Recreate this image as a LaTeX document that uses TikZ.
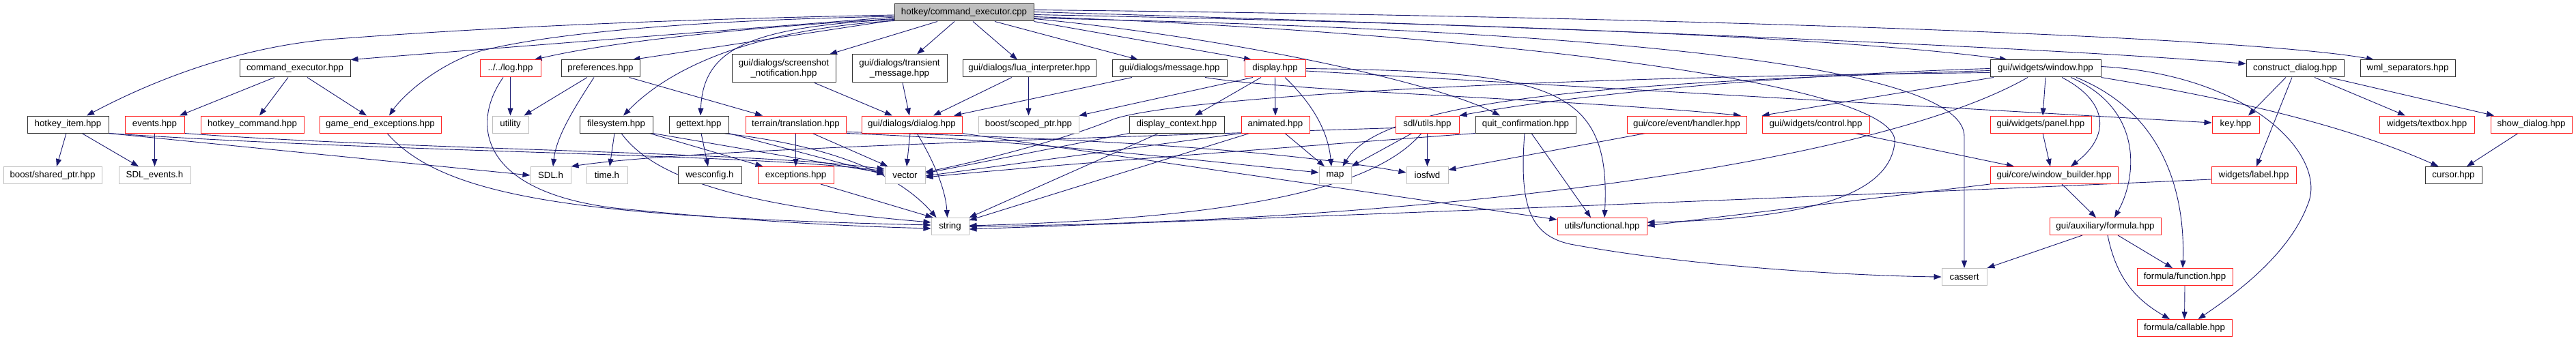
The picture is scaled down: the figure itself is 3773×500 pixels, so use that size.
\documentclass[tikz,border=0pt]{standalone}
\usepackage{fontspec}
\newfontfamily\dgfont{Liberation Sans}
\usetikzlibrary{arrows.meta}
\definecolor{edgec}{HTML}{191970}
\definecolor{boxgray}{HTML}{BFBFBF}
\definecolor{boxred}{HTML}{FF2020}
\pgfdeclarelayer{bg}
\pgfdeclarelayer{paper}
\pgfsetlayers{paper,bg,main}
\newcommand{\dgbox}[6]{\node[#1, minimum width=#5pt] (#2) at (#3,#4) {#6};}
\begin{document}
\begin{tikzpicture}[x=1pt,y=-1pt,
  nb/.style={draw=black!80, fill=white, line width=1.0pt, minimum height=25pt, inner sep=0pt, align=center, font={\dgfont\fontsize{13.3}{15.5}\selectfont}},
  nr/.style={nb, draw=boxred},
  ng/.style={nb, draw=boxgray},
  nroot/.style={nb, fill=boxgray},
  dep/.style={draw=edgec, line width=0.9pt, -{Triangle[length=11pt,width=8pt]}}
]
\begin{pgfonlayer}{paper}
\fill[white] (0,0) rectangle (3773,500);
\end{pgfonlayer}
\useasboundingbox (0,0) rectangle (3773,500);

% row 0
\dgbox{nroot}{root}{1412}{18.5}{204}{hotkey/command\_executor.cpp}
% row 1
\dgbox{nb}{cmdhpp}{432}{100.5}{162}{command\_executor.hpp}
\dgbox{nr}{log}{747.5}{100.5}{89}{../../log.hpp}
\dgbox{nb}{prefs}{879.5}{100.5}{115}{preferences.hpp}
\dgbox{nb, minimum height=41pt}{screenshot}{1148}{100.5}{152}{gui/dialogs/screenshot\\\_notification.hpp}
\dgbox{nb, minimum height=41pt}{transient}{1317.5}{100.5}{139}{gui/dialogs/transient\\\_message.hpp}
\dgbox{nb}{lua}{1507.5}{100.5}{195}{gui/dialogs/lua\_interpreter.hpp}
\dgbox{nb}{message}{1713}{100.5}{168}{gui/dialogs/message.hpp}
\dgbox{nr}{display}{1867.5}{100.5}{89}{display.hpp}
\dgbox{nb}{window}{2996}{100.5}{162}{gui/widgets/window.hpp}
\dgbox{nb}{construct}{3361.5}{100.5}{143}{construct\_dialog.hpp}
\dgbox{nb}{wml}{3526.5}{100.5}{139}{wml\_separators.hpp}
% row 2
\dgbox{nb}{hkitem}{99.5}{182.5}{119}{hotkey\_item.hpp}
\dgbox{nr}{events}{226.5}{182.5}{87}{events.hpp}
\dgbox{nr}{hkcmd}{369.5}{182.5}{151}{hotkey\_command.hpp}
\dgbox{nr}{gameend}{557}{182.5}{178}{game\_end\_exceptions.hpp}
\dgbox{ng}{utility}{747.5}{182.5}{53}{utility}
\dgbox{nb}{filesystem}{902.5}{182.5}{107}{filesystem.hpp}
\dgbox{nb}{gettext}{1023.5}{182.5}{87}{gettext.hpp}
\dgbox{nr}{translation}{1165.5}{182.5}{147}{terrain/translation.hpp}
\dgbox{nr}{dialog}{1335.5}{182.5}{147}{gui/dialogs/dialog.hpp}
\dgbox{ng}{scopedptr}{1506.5}{182.5}{147}{boost/scoped\_ptr.hpp}
\dgbox{nb}{dispctx}{1723.5}{182.5}{139}{display\_context.hpp}
\dgbox{nr}{animated}{1868}{182.5}{100}{animated.hpp}
\dgbox{nr}{sdlutils}{2090.5}{182.5}{93}{sdl/utils.hpp}
\dgbox{nb}{quit}{2234.5}{182.5}{147}{quit\_confirmation.hpp}
\dgbox{nr}{handler}{2470.5}{182.5}{175}{gui/core/event/handler.hpp}
\dgbox{nr}{control}{2659.5}{182.5}{157}{gui/widgets/control.hpp}
\dgbox{nr}{panel}{2989}{182.5}{148}{gui/widgets/panel.hpp}
\dgbox{nr}{key}{3274.5}{182.5}{69}{key.hpp}
\dgbox{nr}{textbox}{3554.5}{182.5}{139}{widgets/textbox.hpp}
\dgbox{nr}{showdlg}{3707.5}{182.5}{119}{show\_dialog.hpp}
% row 3
\dgbox{ng}{sharedptr}{77}{257}{144}{boost/shared\_ptr.hpp}
\dgbox{ng}{sdlevents}{226.5}{257}{105}{SDL\_events.h}
\dgbox{ng}{sdlh}{806.5}{257}{59}{SDL.h}
\dgbox{ng}{timeh}{889}{257}{60}{time.h}
\dgbox{nb}{wesconfig}{1039.5}{257}{93}{wesconfig.h}
\dgbox{nr}{exceptions}{1165.5}{257}{111}{exceptions.hpp}
\dgbox{ng}{vector}{1325.5}{257}{59}{vector}
\dgbox{ng}{map}{1955.5}{257}{47}{map}
\dgbox{ng}{iosfwd}{2090.5}{257}{61}{iosfwd}
\dgbox{nr}{winbuilder}{3008.5}{257}{187}{gui/core/window\_builder.hpp}
\dgbox{nr}{label}{3301}{257}{124}{widgets/label.hpp}
\dgbox{nb}{cursor}{3593.5}{257}{83}{cursor.hpp}
% row 4
\dgbox{ng}{string}{1391.5}{332}{55}{string}
\dgbox{nr}{functional}{2346.5}{332}{131}{utils/functional.hpp}
\dgbox{nr}{formula}{3083.5}{332}{163}{gui/auxiliary/formula.hpp}
% row 5
\dgbox{ng}{cassert}{2877}{406}{66}{cassert}
\dgbox{nr}{function}{3200}{406}{140}{formula/function.hpp}
% row 6
\dgbox{nr}{callable}{3199.5}{481}{139}{formula/callable.hpp}

\begin{pgfonlayer}{bg}
% root
\draw[dep] ([yshift=-3.5pt]root.west) .. controls (900,30) and (650,45) .. (480,58) .. controls (350,70) and (230,115) .. ([xshift=27.5pt]hkitem.north);
\draw[dep] ([yshift=-6.5pt]root.west) -- (cmdhpp.north east);
\draw[dep] ([yshift=-5.5pt]root.west) .. controls (1000,30) and (800,50) .. (703,75) .. controls (640,95) and (590,140) .. ([xshift=13pt]gameend.north);
\draw[dep] ([yshift=-9pt]root.west) .. controls (1100,40) and (900,60) .. ([xshift=35pt]log.north);
\draw[dep] ([yshift=-11pt]root.west) -- ([xshift=47pt]prefs.north);
\draw[dep] ([yshift=-12pt]root.west) .. controls (1150,40) and (1000,80) .. ([xshift=10.5pt]filesystem.north);
\draw[dep] ([yshift=-10pt]root.west) .. controls (1100,40) and (1030,70) .. ([xshift=2.5pt]gettext.north);
\draw[dep] ([xshift=-39pt]root.south) -- ([xshift=67pt]screenshot.north);
\draw[dep] ([xshift=-14pt]root.south) -- ([xshift=25.5pt]transient.north);
\draw[dep] ([xshift=13pt]root.south) -- ([xshift=-17.5pt]lua.north);
\draw[dep] ([xshift=45pt]root.south) -- ([xshift=-46pt]message.north);
\draw[dep] (root.south east) -- ([xshift=-34.5pt]display.north);
\draw[dep] ([yshift=-9pt]root.east) .. controls (1800,55) and (2100,120) .. ([xshift=-37.5pt]quit.north);
\draw[dep] ([yshift=-6pt]root.east) .. controls (2100,45) and (2790,115) .. (2775,210) .. controls (2765,300) and (2600,322) .. ([yshift=6pt]functional.east);
\draw[dep] ([yshift=-3pt]root.east) .. controls (2200,35) and (2700,55) .. ([xshift=-56pt]window.north);
\draw[dep] ([yshift=1pt]root.east) .. controls (2300,40) and (3000,70) .. ([yshift=7pt]construct.west);
\draw[dep] ([yshift=4pt]root.east) .. controls (2500,25) and (3300,55) .. ([xshift=-49.5pt]wml.north);
\draw[dep] ([yshift=-8pt]root.east) .. controls (2400,45) and (2877,100) .. (2877,200) -- (cassert.north);
% command_executor.hpp
\draw[dep] ([xshift=-30pt]cmdhpp.south) -- ([xshift=36.5pt]events.north);
\draw[dep] ([xshift=-10pt]cmdhpp.south) -- ([xshift=10.5pt]hkcmd.north);
\draw[dep] ([xshift=18pt]cmdhpp.south) -- ([xshift=-20pt]gameend.north);
% hotkey_item
\draw[dep] ([xshift=-2.5pt]hkitem.south) -- ([xshift=6pt]sharedptr.north);
\draw[dep] ([xshift=20.5pt]hkitem.south) -- ([xshift=-23.5pt]sdlevents.north);
\draw[dep] (hkitem.south east) -- (sdlh.west);
\draw[dep] (hkitem.south east) .. controls (600,225) and (1100,225) .. ([yshift=6pt]vector.west);
% events
\draw[dep] (events.south) -- (sdlevents.north);
\draw[dep] (events.south east) .. controls (600,220) and (1100,222) .. ([yshift=9pt]vector.west);
% game_end_exceptions
\draw[dep] ([xshift=10pt]gameend.south) .. controls (650,290) and (850,318) .. ([yshift=2pt]string.west);
% log
\draw[dep] (log.south) -- (utility.north);
\draw[dep] ([xshift=-10.5pt]log.south) .. controls (690,180) and (700,280) .. (900,305) .. controls (1100,325) and (1250,332) .. ([yshift=-3pt]string.west);
% preferences
\draw[dep] ([xshift=-19.5pt]prefs.south) -- ([xshift=20pt]utility.north);
\draw[dep] ([xshift=-9.5pt]prefs.south) .. controls (840,160) and (815,200) .. ([xshift=3.5pt]sdlh.north);
\draw[dep] ([xshift=42pt]prefs.south) -- ([xshift=-48.5pt]translation.north);
% filesystem
\draw[dep] ([xshift=-2.5pt]filesystem.south) -- ([xshift=4pt]timeh.north);
\draw[dep] ([xshift=7.5pt]filesystem.south) .. controls (950,250) and (1050,300) .. ([yshift=6pt]string.west);
\draw[dep] (filesystem.south east) -- ([yshift=3pt]vector.west);
\draw[dep] ([xshift=-5pt]filesystem.south east) -- ([xshift=-48pt]exceptions.north);
% gettext
\draw[dep] ([xshift=3.5pt]gettext.south) -- ([xshift=-2.5pt]wesconfig.north);
\draw[dep] (gettext.south east) -- ([yshift=1pt]vector.west);
\draw[dep] ([xshift=-8pt]gettext.south east) .. controls (1230,215) and (1320,260) .. ([xshift=-20pt]string.north);
% terrain/translation
\draw[dep] (translation.south) -- (exceptions.north);
\draw[dep] ([xshift=24.5pt]translation.south) -- ([xshift=-25pt]vector.north);
\draw[dep] (translation.south east) .. controls (1500,205) and (1800,240) .. ([yshift=4pt]map.west);
\draw[dep] ([yshift=2pt]translation.south east) .. controls (1500,200) and (1850,215) .. ([yshift=4pt]iosfwd.west);
% exceptions
\draw[dep] ([xshift=36.5pt]exceptions.south) -- ([xshift=-25pt]string.north);
% dialog
\draw[dep] ([xshift=-2.5pt]dialog.south) -- ([xshift=2.5pt]vector.north);
\draw[dep] ([xshift=7.5pt]dialog.south) .. controls (1370,240) and (1385,280) .. ([xshift=-4pt]string.north);
\draw[dep] (dialog.south east) -- ([yshift=10pt]functional.west);
% dialogs into dialog.hpp
\draw[dep] ([xshift=45pt]screenshot.south) -- ([xshift=-28.5pt]dialog.north);
\draw[dep] ([xshift=4.5pt]transient.south) -- ([xshift=-3.5pt]dialog.north);
\draw[dep] ([xshift=-25.5pt]lua.south) -- ([xshift=31.5pt]dialog.north);
\draw[dep] ([xshift=-1pt]lua.south) -- (scopedptr.north);
\draw[dep] ([xshift=-55pt]message.south) -- ([xshift=61.5pt]dialog.north);
\draw[dep] ([xshift=52pt]message.south) .. controls (1900,135) and (2300,145) .. ([xshift=79.5pt]handler.north);
% display
\draw[dep] ([xshift=-32.5pt]display.south) -- (scopedptr.north east);
\draw[dep] ([xshift=-20.5pt]display.south) -- ([xshift=26.5pt]dispctx.north);
\draw[dep] (display.south) -- (animated.north);
\draw[dep] ([xshift=14.5pt]display.south) .. controls (1920,150) and (1945,190) .. ([xshift=-5.5pt]map.north);
\draw[dep] ([yshift=-3.5pt]display.east) -- ([yshift=2.5pt]key.west);
\draw[dep] (display.east) .. controls (2270,105) and (2360,125) .. ([xshift=3.5pt]functional.north);
% animated
\draw[dep] ([xshift=14pt]animated.south) -- ([xshift=-15.5pt]map.north);
\draw[dep] (animated.south west) -- ([yshift=-1pt]vector.east);
\draw[dep] ([xshift=-38pt]animated.south) -- ([yshift=9pt]string.east);
% display_context
\draw[dep] (dispctx.south west) -- ([yshift=3pt]vector.east);
\draw[dep] ([xshift=-26.5pt]dispctx.south) -- (string.north east);
% sdl/utils
\draw[dep] ([xshift=-22.5pt]sdlutils.south) -- (map.north east);
\draw[dep] (sdlutils.south) -- (iosfwd.north);
\draw[dep] ([xshift=-8.5pt]sdlutils.south) .. controls (2010,280) and (1800,320) .. ([yshift=1pt]string.east);
\draw[dep] ([yshift=-5pt]sdlutils.west) .. controls (1500,205) and (1000,220) .. (sdlh.north east);
% quit_confirmation
\draw[dep] ([xshift=8.5pt]quit.south) -- ([xshift=-16.5pt]functional.north);
\draw[dep] ([xshift=-1.5pt]quit.south) .. controls (2225,300) and (2240,345) .. (2300,358) .. controls (2500,395) and (2750,405) .. (cassert.west);
\draw[dep] (quit.south west) .. controls (1900,215) and (1500,245) .. ([yshift=-3pt]vector.east);
% window
\draw[dep] ([xshift=-76pt]window.south) -- (control.north west);
\draw[dep] (window.west) .. controls (2600,110) and (2300,140) .. (sdlutils.north east);
\draw[dep] ([yshift=-3pt]window.west) .. controls (2400,120) and (2030,140) .. ([xshift=11pt]map.north);
\draw[dep] ([yshift=-6pt]window.west) .. controls (2100,115) and (1700,150) .. (1630,175) .. controls (1560,205) and (1420,240) .. ([yshift=5pt]vector.east);
\draw[dep] ([xshift=-26pt]window.south) .. controls (2750,240) and (2100,325) .. (string.east);
\draw[dep] (window.south) -- ([xshift=3pt]panel.north);
\draw[dep] ([xshift=24pt]window.south) .. controls (3090,150) and (3090,200) .. ([xshift=24.5pt]winbuilder.north);
\draw[dep] ([xshift=37pt]window.south) .. controls (3140,160) and (3130,260) .. ([xshift=13.5pt]formula.north);
\draw[dep] ([xshift=45pt]window.south) .. controls (3180,170) and (3200,300) .. ([xshift=-3pt]function.north);
\draw[dep] ([yshift=3pt]window.east) .. controls (3300,110) and (3410,230) .. (3380,300) .. controls (3350,380) and (3260,440) .. ([xshift=20pt]callable.north);
\draw[dep] (window.south east) .. controls (3300,150) and (3450,190) .. ([xshift=-22pt]cursor.north);
% control, handler, panel, window_builder, label
\draw[dep] ([xshift=57.5pt]control.south) -- ([xshift=-58.5pt]winbuilder.north);
\draw[dep] ([xshift=-60.5pt]handler.south) -- ([yshift=8pt]iosfwd.east);
\draw[dep] ([xshift=3pt]panel.south) -- ([xshift=-5.5pt]winbuilder.north);
\draw[dep] ([xshift=11.5pt]winbuilder.south) -- ([xshift=-13.5pt]formula.north);
\draw[dep] (winbuilder.south west) -- ([yshift=1pt]functional.east);
\draw[dep] ([yshift=-6pt]label.west) .. controls (2800,283) and (2000,315) .. ([yshift=-4pt]string.east);
% construct_dialog
\draw[dep] ([xshift=-13.5pt]construct.south) -- ([xshift=18.5pt]key.north);
\draw[dep] ([xshift=-4.5pt]construct.south) -- ([xshift=4pt]label.north);
\draw[dep] ([xshift=28.5pt]construct.south) -- ([xshift=-31.5pt]textbox.north);
\draw[dep] ([xshift=50.5pt]construct.south) -- ([xshift=-54.5pt]showdlg.north);
\draw[dep] ([xshift=-19.5pt]showdlg.south) -- ([xshift=19.5pt]cursor.north);
% formula
\draw[dep] ([xshift=-33.5pt]formula.south) -- (cassert.north east);
\draw[dep] ([xshift=18.5pt]formula.south) -- ([xshift=-18pt]function.north);
\draw[dep] ([xshift=3.5pt]formula.south) .. controls (3100,410) and (3130,440) .. ([xshift=-21.5pt]callable.north);
\draw[dep] (function.south) -- (callable.north);
\end{pgfonlayer}
\end{tikzpicture}
\end{document}
